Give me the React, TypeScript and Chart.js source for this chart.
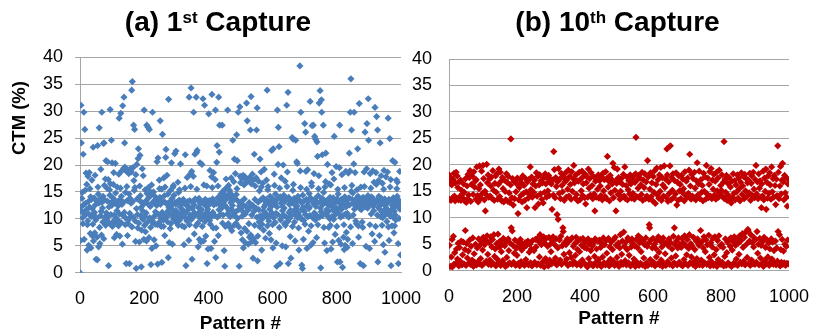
import React, { useEffect, useRef } from "react";
import { Chart, registerables } from "chart.js";

Chart.register(...registerables);

const FONT = "'Liberation Sans', Arial, Helvetica, sans-serif";

// CTM (%) per pattern number (index = pattern #), 1st capture
const ctmFirst: number[] = [
  0, 12.1, 6.0, 31.1, 24.1, 11.4, 13.8, 14.9, 10.2, 9.1, 22.0, 12.6, 29.8, 6.2, 11.0, 26.6, 15.3, 12.9, 10.8, 18.5,
  11.7, 16.4, 4.2, 8.9, 9.6, 17.9, 13.2, 5.1, 10.9, 18.6, 12.2, 15.6, 7.3, 14.1, 4.6, 10.4, 13.6, 17.2, 11.9, 6.8,
  9.0, 23.3, 5.9, 10.7, 13.9, 11.2, 7.4, 18.1, 12.6, 9.8, 2.5, 13.4, 10.1, 6.6, 2.4, 23.6, 15.9, 14.6, 4.8, 12.9,
  26.9, 8.4, 5.4, 13.7, 10.6, 19.2, 11.4, 7.0, 29.8, 13.1, 12.0, 9.4, 14.2, 24.0, 6.3, 24.1, 16.2, 13.5, 10.3, 17.4,
  8.8, 20.8, 11.1, 9.9, 15.7, 13.3, 20.6, 10.5, 17.3, 1.3, 12.2, 9.2, 15.4, 14.4, 30.3, 16.5, 10.8, 13.0, 24.6, 12.5,
  20.4, 8.6, 13.9, 9.5, 16.4, 18.6, 10.7, 6.5, 13.5, 9.3, 20.3, 14.8, 10.2, 12.8, 7.1, 11.5, 15.9, 13.2, 9.7, 12.4,
  8.7, 18.3, 28.7, 10.9, 6.8, 13.6, 15.7, 29.6, 9.3, 14.2, 18.9, 12.7, 5.3, 31.0, 10.6, 13.1, 19.4, 32.6, 11.2, 24.1,
  19.6, 8.9, 14.9, 10.1, 1.7, 18.8, 16.0, 13.4, 6.9, 19.1, 9.1, 9.8, 18.4, 14.6, 1.7, 11.0, 13.8, 19.3, 10.4, 12.9,
  18.7, 33.9, 8.5, 35.5, 13.2, 19.5, 10.3, 27.4, 17.1, 15.3, 26.6, 15.8, 9.6, 5.8, 18.2, 0.8, 11.9, 20.1, 13.7, 10.8,
  8.3, 21.2, 23.0, 9.2, 13.5, 5.7, 16.1, 21.8, 14.3, 10.6, 12.1, 1.1, 7.9, 13.0, 19.3, 11.5, 9.9, 18.0, 12.7, 6.2,
  30.2, 8.8, 10.5, 15.4, 7.6, 13.3, 11.1, 5.9, 27.4, 14.7, 9.4, 12.8, 27.0, 15.8, 13.9, 6.5, 26.6, 10.2, 15.1, 12.3,
  8.4, 1.5, 14.5, 16.3, 4.5, 9.7, 29.8, 13.1, 9.2, 15.0, 10.4, 6.1, 12.9, 14.2, 9.0, 11.3, 13.6, 5.0, 10.9, 12.5,
  20.6, 8.9, 1.6, 21.3, 10.8, 13.4, 9.3, 17.2, 15.6, 14.0, 28.2, 12.7, 10.1, 8.6, 15.5, 1.9, 11.2, 25.7, 13.3, 9.8,
  8.6, 17.6, 10.7, 14.3, 6.9, 15.9, 13.0, 21.4, 22.9, 10.3, 12.8, 18.1, 9.5, 11.4, 14.6, 2.8, 32.2, 12.1, 5.6, 10.9,
  13.2, 8.2, 15.3, 9.1, 12.5, 20.4, 10.6, 13.8, 5.3, 11.7, 15.9, 16.2, 9.9, 14.4, 11.2, 22.1, 13.0, 10.4, 12.7, 22.6,
  11.5, 9.3, 10.2, 13.1, 9.4, 16.8, 8.8, 14.9, 10.8, 13.5, 15.4, 9.8, 12.2, 20.2, 11.0, 13.3, 10.5, 12.8, 8.7, 11.7,
  12.9, 10.6, 13.6, 11.4, 5.2, 8.5, 10.3, 15.7, 21.9, 13.0, 1.3, 11.2, 12.5, 9.6, 17.7, 11.6, 13.2, 10.0, 12.3, 6.0,
  32.6, 8.9, 13.4, 18.3, 10.7, 16.0, 34.3, 9.9, 18.8, 2.5, 11.9, 13.1, 10.4, 17.9, 29.8, 12.6, 7.2, 11.1, 22.0, 13.7,
  10.8, 8.7, 32.6, 22.3, 15.5, 22.7, 13.5, 9.2, 4.8, 12.1, 10.5, 13.8, 6.2, 11.3, 20.4, 12.8, 10.0, 5.7, 13.2, 11.7,
  20.1, 8.6, 10.6, 32.3, 13.0, 5.9, 16.3, 12.7, 31.1, 9.5, 13.6, 11.0, 6.8, 12.4, 10.2, 16.1, 1.7, 13.3, 11.8, 4.4,
  12.5, 29.5, 10.9, 13.4, 9.7, 19.0, 9.0, 12.9, 4.5, 10.4, 17.8, 33.1, 15.8, 13.7, 11.2, 8.3, 18.6, 12.6, 10.7, 5.8,
  13.1, 17.3, 30.2, 2.8, 8.3, 12.8, 20.5, 23.6, 10.3, 13.9, 16.1, 6.9, 32.6, 11.7, 22.4, 27.4, 13.3, 10.8, 12.5, 14.6,
  11.9, 14.2, 13.6, 27.4, 9.2, 15.1, 10.7, 14.8, 13.2, 4.1, 12.6, 1.2, 15.5, 8.6, 14.0, 17.4, 13.7, 12.1, 15.8, 10.9,
  30.2, 14.4, 9.1, 16.2, 11.5, 13.9, 15.3, 8.4, 10.4, 14.7, 13.0, 17.6, 11.8, 7.8, 14.1, 12.5, 24.6, 13.4, 11.1, 16.9,
  8.8, 21.1, 10.6, 13.8, 18.4, 11.3, 9.2, 14.5, 25.6, 15.6, 20.8, 10.1, 13.3, 29.8, 11.7, 8.5, 1.2, 12.4, 30.8, 17.9,
  16.7, 11.9, 7.4, 13.2, 17.5, 10.5, 6.1, 12.6, 18.1, 4.6, 11.2, 16.3, 13.7, 8.2, 17.8, 10.9, 5.5, 12.3, 17.0, 31.5,
  7.7, 28.2, 16.9, 11.6, 5.3, 17.4, 9.1, 13.0, 6.6, 17.7, 12.1, 26.5, 7.0, 32.7, 16.5, 10.7, 5.8, 18.3, 12.5, 2.7,
  17.2, 6.3, 11.4, 22.0, 8.8, 13.6, 16.1, 5.6, 12.0, 17.6, 26.5, 10.3, 30.6, 2.2, 6.8, 13.1, 17.0, 11.7, 9.4, 15.2,
  8.5, 21.1, 10.6, 13.5, 18.7, 15.9, 4.2, 9.0, 10.0, 16.6, 13.9, 11.5, 7.9, 12.2, 19.2, 10.8, 13.3, 12.6, 6.4, 11.0,
  13.6, 17.2, 10.4, 33.9, 8.7, 15.4, 16.0, 13.0, 9.6, 12.7, 7.3, 11.8, 14.2, 10.6, 13.4, 6.1, 12.3, 22.7, 11.1, 13.8,
  8.9, 4.6, 23.0, 10.2, 13.1, 18.3, 16.2, 12.9, 9.3, 14.6, 11.0, 5.5, 13.5, 1.2, 12.2, 30.2, 10.8, 20.1, 27.0, 13.9,
  23.4, 8.4, 15.7, 1.7, 14.1, 9.8, 12.9, 17.6, 10.4, 13.6, 5.0, 11.5, 12.2, 20.0, 10.7, 14.4, 12.0, 9.1, 13.2, 17.0,
  8.8, 4.8, 13.7, 10.3, 31.1, 16.0, 18.7, 9.5, 33.5, 1.7, 14.0, 11.2, 12.7, 10.1, 13.4, 6.7, 11.6, 2.7, 12.9, 10.6,
  13.3, 25.1, 8.6, 15.3, 24.8, 16.4, 11.5, 13.8, 9.4, 12.6, 5.9, 10.7, 24.6, 13.1, 11.9, 20.6, 12.4, 20.3, 10.2, 14.2,
  11.1, 8.3, 4.2, 13.5, 10.5, 38.4, 18.9, 15.8, 29.8, 10.0, 13.0, 1.4, 11.7, 0.8, 14.4, 12.1, 6.2, 9.7, 13.3, 11.4,
  27.7, 9.0, 10.8, 26.1, 18.8, 13.6, 15.5, 4.5, 12.5, 19.1, 10.4, 13.2, 7.7, 11.9, 14.7, 12.2, 10.6, 31.8, 13.9, 5.1,
  8.7, 16.7, 16.1, 27.3, 13.4, 10.2, 5.6, 27.4, 12.8, 18.4, 11.1, 25.3, 13.7, 9.8, 24.8, 12.3, 10.7, 6.5, 24.3, 13.0,
  21.6, 8.9, 14.3, 15.6, 18.0, 31.5, 10.3, 13.1, 33.8, 12.0, 0.9, 11.3, 32.1, 29.8, 13.8, 21.9, 10.6, 12.7, 27.4, 14.9,
  8.4, 13.5, 5.5, 15.9, 10.9, 16.9, 22.2, 13.0, 11.7, 4.1, 12.8, 20.1, 10.5, 13.6, 11.4, 8.4, 16.5, 12.5, 10.0, 14.0,
  8.8, 16.3, 4.4, 13.4, 10.4, 18.6, 12.2, 5.7, 11.6, 13.9, 9.9, 17.4, 25.3, 12.9, 10.7, 7.1, 13.3, 11.5, 19.7, 12.0,
  8.6, 13.7, 2.0, 15.5, 14.6, 11.1, 6.0, 13.0, 19.5, 27.4, 2.0, 12.1, 10.3, 5.3, 13.6, 11.8, 18.2, 12.7, 1.0, 10.6,
  13.2, 6.6, 8.9, 4.3, 15.8, 14.1, 5.1, 10.9, 18.8, 12.2, 7.5, 13.5, 4.7, 11.0, 6.2, 12.8, 18.5, 10.3, 13.9, 22.2,
  12.6, 18.9, 29.8, 8.5, 36.0, 15.1, 26.5, 16.2, 13.6, 5.4, 14.8, 10.7, 12.9, 20.2, 29.8, 11.8, 13.3, 18.6, 12.4, 9.6,
  13.0, 9.1, 13.8, 15.4, 12.7, 23.0, 14.2, 8.7, 6.6, 13.5, 31.4, 12.0, 13.1, 1.7, 12.8, 15.9, 11.7, 13.6, 12.3, 9.4,
  13.3, 8.4, 14.0, 1.3, 12.9, 18.7, 16.0, 13.4, 26.1, 12.2, 13.8, 4.9, 12.6, 19.3, 27.7, 13.1, 12.0, 14.3, 32.3, 24.6,
  12.7, 13.6, 4.5, 8.9, 18.4, 13.2, 15.7, 10.9, 14.1, 12.8, 7.2, 13.4, 18.9, 12.3, 13.7, 11.5, 16.8, 12.9, 5.8, 30.7,
  13.0, 8.6, 18.6, 16.4, 29.0, 13.5, 10.7, 26.5, 2.0, 12.2, 17.1, 14.2, 11.9, 6.9, 13.3, 24.1, 12.6, 10.4, 18.0, 13.8,
  11.3, 8.8, 16.6, 10.2, 13.2, 5.2, 15.5, 19.0, 11.6, 13.7, 3.8, 12.4, 10.8, 17.8, 13.1, 11.9, 9.5, 12.9, 18.7, 11.2,
  28.7, 8.5, 13.6, 6.0, 11.0, 24.9, 15.9, 10.5, 17.3, 1.3, 13.3, 11.7, 8.7, 12.5, 20.8, 10.3, 13.9, 12.1, 7.4, 11.4,
  8.7, 20.5, 10.7, 13.2, 9.8, 12.4, 17.2, 15.6, 14.2, 16.8, 12.6, 5.4, 1.7, 13.5, 10.1, 12.2, 18.8, 11.8, 13.0, 3.3,
];

// CTM (%) per pattern number (index = pattern #), 10th capture
const ctmTenth: number[] = [
  18.1, 4.8, 13.5, 16.9, 0.8, 17.6, 13.3, 2.6, 16.2, 5.9, 0.7, 13.8, 17.3, 6.5, 1.2, 18.4, 14.1, 3.4, 13.2, 16.6,
  1.4, 18.6, 4.1, 13.6, 17.9, 2.2, 15.7, 5.2, 13.4, 0.9, 16.8, 4.4, 14.0, 1.8, 17.1, 13.3, 5.6, 15.2, 1.1, 14.5,
  3.0, 13.7, 5.4, 16.4, 1.3, 14.8, 13.2, 4.0, 7.6, 17.4, 1.0, 12.9, 5.1, 16.0, 2.4, 13.6, 18.2, 3.7, 14.3, 1.5,
  17.6, 5.8, 18.9, 1.2, 13.1, 4.6, 16.3, 18.4, 2.0, 17.8, 6.2, 14.4, 0.8, 18.7, 3.2, 15.8, 1.6, 16.9, 5.0, 13.5,
  17.2, 1.1, 19.6, 4.3, 14.2, 1.7, 13.0, 6.0, 15.5, 1.3, 19.8, 4.8, 16.2, 2.3, 13.7, 5.5, 18.8, 1.0, 14.6, 3.9,
  19.9, 6.3, 17.4, 1.4, 13.4, 4.9, 15.0, 11.3, 5.8, 14.4, 1.8, 20.1, 6.6, 16.6, 3.1, 18.1, 1.2, 13.9, 5.3, 17.3,
  2.0, 14.1, 6.4, 16.0, 1.1, 17.7, 4.5, 13.6, 5.9, 18.9, 1.4, 15.2, 6.8, 13.3, 2.7, 16.5, 4.1, 17.9, 0.9, 14.8,
  5.1, 18.3, 2.2, 13.5, 6.9, 16.3, 1.6, 19.2, 4.4, 14.0, 5.6, 18.6, 1.0, 16.9, 3.6, 13.2, 5.0, 17.6, 1.9, 15.5,
  6.1, 13.0, 1.3, 17.1, 4.7, 15.0, 0.8, 13.4, 5.5, 18.3, 2.5, 16.7, 1.1, 13.1, 6.0, 17.8, 3.8, 14.7, 1.5, 12.9,
  5.2, 16.2, 24.9, 8.1, 1.2, 13.8, 7.5, 17.4, 4.8, 12.4, 1.6, 16.9, 3.3, 13.6, 5.8, 17.0, 1.0, 14.9, 4.2, 16.4,
  2.9, 17.5, 5.4, 10.8, 1.4, 13.4, 4.6, 15.7, 0.9, 17.2, 5.9, 14.2, 1.7, 16.6, 3.9, 13.0, 5.1, 17.9, 1.3, 14.6,
  4.4, 16.1, 1.0, 13.3, 5.3, 17.4, 2.1, 14.9, 4.8, 11.9, 1.4, 16.8, 5.6, 13.7, 1.1, 17.2, 3.5, 14.4, 5.0, 19.6,
  1.5, 15.3, 4.1, 17.7, 0.9, 13.9, 5.7, 16.4, 1.2, 14.8, 3.8, 17.1, 1.6, 11.9, 5.9, 16.0, 4.5, 18.5, 1.1, 14.1,
  6.1, 17.8, 1.3, 12.6, 5.5, 16.2, 2.6, 18.1, 6.8, 14.5, 1.0, 17.0, 4.9, 13.5, 5.9, 16.6, 1.7, 12.8, 6.4, 17.6,
  0.7, 14.8, 5.2, 18.3, 2.3, 16.4, 6.1, 13.9, 1.5, 17.5, 4.6, 15.1, 0.9, 18.0, 6.3, 14.2, 2.0, 16.8, 5.0, 17.3,
  3.6, 16.4, 1.3, 11.6, 5.7, 17.1, 6.4, 14.3, 22.5, 1.8, 19.1, 4.9, 13.8, 2.4, 17.6, 6.0, 15.9, 1.1, 10.6, 16.8,
  4.3, 9.7, 19.3, 1.5, 14.6, 5.8, 17.3, 2.0, 13.6, 6.5, 18.4, 1.2, 16.1, 4.7, 14.9, 8.1, 7.4, 17.7, 3.1, 13.3,
  5.3, 16.8, 1.6, 18.5, 4.9, 13.9, 2.2, 17.2, 6.0, 15.4, 1.0, 19.0, 5.5, 14.1, 3.4, 17.8, 1.3, 16.3, 5.9, 13.5,
  2.5, 18.7, 6.2, 15.0, 1.2, 17.4, 4.6, 19.9, 1.7, 16.6, 5.1, 13.7, 2.9, 18.1, 6.3, 14.4, 1.1, 17.0, 4.0, 13.2,
  5.7, 16.9, 1.4, 18.6, 3.6, 13.4, 5.9, 17.3, 1.0, 15.1, 4.8, 18.8, 2.0, 14.2, 6.1, 16.4, 1.5, 17.9, 4.4, 13.8,
  5.4, 18.2, 12.6, 1.1, 16.6, 4.2, 17.7, 0.7, 13.9, 6.0, 19.2, 2.3, 15.6, 5.0, 17.4, 1.4, 14.3, 3.8, 18.5, 5.6,
  1.2, 16.1, 4.7, 13.6, 0.9, 17.8, 5.3, 14.5, 2.7, 11.3, 6.0, 16.9, 1.6, 13.9, 4.1, 17.3, 1.0, 15.4, 5.6, 18.1,
  2.1, 13.7, 5.8, 17.0, 1.3, 16.0, 4.4, 14.2, 0.8, 17.6, 5.1, 13.4, 2.6, 18.4, 6.2, 15.1, 1.5, 17.2, 4.9, 14.0,
  1.1, 18.7, 5.7, 13.6, 3.3, 17.5, 21.6, 1.6, 15.8, 6.1, 16.9, 0.9, 13.2, 4.5, 18.0, 2.2, 14.7, 5.4, 17.3, 1.3,
  16.4, 4.0, 20.3, 1.8, 13.8, 5.9, 19.5, 1.0, 15.2, 6.3, 17.0, 11.3, 4.8, 16.5, 2.5, 19.2, 1.4, 14.4, 5.2, 17.6,
  0.8, 16.8, 4.3, 13.5, 6.8, 15.0, 1.6, 17.4, 3.1, 13.9, 5.6, 16.3, 1.2, 18.2, 7.3, 14.1, 4.6, 19.6, 1.9, 13.6,
  5.4, 16.1, 1.1, 17.7, 4.0, 13.4, 6.2, 15.3, 1.5, 17.0, 2.9, 14.5, 5.7, 18.1, 0.9, 16.4, 4.5, 13.7, 6.0, 17.4,
  1.3, 14.6, 5.1, 17.9, 2.2, 13.5, 4.7, 16.7, 0.8, 18.3, 25.2, 5.9, 14.0, 1.6, 17.2, 4.3, 15.6, 6.6, 18.0, 1.0,
  13.8, 5.3, 17.5, 1.4, 16.2, 3.6, 14.4, 6.0, 18.6, 1.1, 13.3, 5.5, 17.1, 2.4, 15.7, 4.9, 18.3, 0.8, 13.6, 6.2,
  16.8, 1.5, 14.1, 4.6, 20.8, 1.0, 17.7, 5.2, 13.5, 8.7, 8.1, 15.4, 2.1, 18.5, 5.8, 14.0, 1.2, 16.6, 4.3, 13.2,
  6.1, 17.8, 1.6, 14.8, 5.0, 18.9, 0.9, 12.7, 4.2, 16.3, 2.6, 19.4, 5.7, 14.3, 1.3, 17.2, 6.4, 13.7, 3.5, 18.1,
  1.1, 15.0, 5.6, 19.5, 2.0, 13.3, 4.5, 17.6, 0.8, 16.2, 6.2, 14.1, 1.4, 19.8, 5.1, 15.7, 3.2, 17.3, 1.0, 13.9,
  5.4, 23.0, 18.1, 1.7, 13.1, 4.7, 16.8, 6.0, 14.6, 1.2, 19.8, 23.6, 5.3, 13.4, 2.4, 17.6, 4.1, 15.2, 0.9, 18.3,
  6.5, 13.8, 1.5, 8.1, 17.0, 4.9, 14.5, 2.8, 18.5, 5.6, 12.4, 1.1, 16.7, 4.3, 13.3, 6.2, 17.9, 1.6, 15.1, 5.0,
  16.3, 1.2, 13.6, 4.4, 18.0, 6.1, 14.8, 0.9, 17.3, 5.3, 15.5, 2.1, 13.2, 6.6, 18.7, 1.4, 14.2, 4.7, 16.9, 3.0,
  13.9, 5.9, 17.5, 1.0, 14.6, 4.2, 19.0, 6.8, 22.0, 1.5, 16.0, 5.1, 13.5, 2.6, 18.2, 4.6, 14.1, 1.2, 17.4, 6.3,
  13.7, 1.8, 18.6, 4.0, 15.6, 0.8, 13.4, 5.6, 17.0, 2.3, 20.4, 6.0, 14.3, 1.3, 16.4, 4.8, 18.8, 1.1, 13.6, 5.2,
  7.6, 17.2, 2.0, 14.8, 5.5, 16.1, 1.0, 13.2, 4.3, 18.4, 6.4, 15.0, 1.5, 17.7, 3.6, 13.5, 5.8, 19.9, 1.2, 14.5,
  4.9, 17.5, 1.4, 13.8, 6.7, 16.3, 2.5, 18.7, 0.9, 14.1, 5.3, 19.3, 1.7, 13.6, 4.5, 17.1, 6.1, 15.4, 1.0, 18.2,
  3.0, 14.3, 6.4, 16.9, 1.3, 13.5, 4.0, 18.6, 0.8, 15.1, 5.7, 17.5, 2.1, 13.9, 6.6, 19.0, 1.4, 14.6, 4.7, 16.1,
  1.2, 15.2, 5.0, 18.1, 1.6, 14.0, 4.4, 16.7, 0.9, 24.4, 13.6, 2.7, 17.3, 6.0, 14.8, 1.0, 18.0, 3.4, 13.3, 5.4,
  16.5, 1.5, 14.2, 5.8, 17.6, 1.1, 13.5, 4.6, 15.8, 6.2, 12.8, 0.8, 16.9, 3.9, 13.8, 5.5, 18.3, 1.4, 14.6, 6.4,
  17.0, 1.2, 13.4, 4.8, 16.2, 2.2, 14.9, 6.0, 18.1, 1.0, 13.7, 5.2, 17.5, 3.1, 15.5, 6.6, 13.2, 1.6, 16.7, 5.7,
  18.5, 1.3, 14.4, 7.0, 16.0, 4.4, 17.8, 1.8, 13.6, 6.3, 18.2, 1.1, 15.1, 7.3, 17.4, 5.0, 14.0, 2.5, 16.6, 7.8,
  7.5, 17.1, 1.4, 14.7, 5.6, 18.4, 1.0, 13.3, 6.8, 16.5, 2.0, 17.9, 5.3, 14.2, 1.3, 18.6, 4.5, 15.4, 6.2, 13.8,
  1.2, 17.2, 5.9, 19.9, 1.6, 14.5, 7.4, 16.8, 3.3, 13.6, 5.0, 18.3, 1.1, 15.6, 6.1, 17.0, 2.4, 13.9, 4.8, 11.9,
  16.4, 1.4, 14.1, 5.5, 18.8, 0.8, 13.4, 6.3, 17.5, 2.0, 15.0, 4.4, 19.2, 11.6, 1.3, 16.7, 5.8, 13.7, 2.6, 17.9,
  5.2, 14.6, 1.0, 18.5, 4.1, 16.2, 1.7, 13.5, 6.0, 19.6, 2.2, 14.9, 5.4, 17.4, 1.2, 13.9, 3.8, 18.0, 1.5, 16.1,
  5.6, 12.5, 1.1, 17.3, 4.3, 14.2, 1.8, 23.6, 7.4, 18.6, 1.3, 13.6, 6.8, 16.0, 0.9, 19.7, 4.0, 14.5, 1.6, 17.1,
  5.9, 20.3, 1.2, 16.8, 3.7, 13.4, 1.5, 18.0, 5.0, 14.7, 1.0, 17.6, 4.6, 13.9, 1.4, 12.2, 5.8, 16.4, 1.3, 17.2,
];

const xTickValues: number[] = [0, 200, 400, 600, 800, 1000];
const yTickValues: number[] = [0, 5, 10, 15, 20, 25, 30, 35, 40];
const titleA = { prefix: "(a) 1", sup: "st", rest: " Capture" };
const titleB = { prefix: "(b) 10", sup: "th", rest: " Capture" };
const yAxisTitle = "CTM (%)";
const xAxisTitle = "Pattern #";

const GRID = "#a6a6a6";

type PanelProps = {
  values: number[];
  color: string;
  left: number;
  width: number;
  padTop: number;
  padRight: number;
  padBottom: number;
  yWidth: number;
  xHeight: number;
  tickMarks: boolean;
};

function ScatterPanel(p: PanelProps) {
  const ref = useRef<HTMLCanvasElement | null>(null);
  useEffect(() => {
    if (!ref.current) return;
    const chart = new Chart(ref.current, {
      type: "scatter",
      data: {
        datasets: [
          {
            data: p.values.map((v, i) => ({ x: i, y: v })),
            pointStyle: "rectRot",
            pointRadius: 3.6,
            pointHoverRadius: 3.6,
            pointBorderWidth: 0,
            backgroundColor: p.color,
            borderColor: p.color,
          },
        ],
      },
      options: {
        animation: false,
        responsive: false,
        events: [],
        layout: { padding: { top: p.padTop, right: p.padRight, bottom: p.padBottom, left: 0 } },
        plugins: { legend: { display: false }, tooltip: { enabled: false }, title: { display: false } },
        scales: {
          x: {
            type: "linear",
            min: 0,
            max: 1000,
            afterFit: (s: any) => {
              s.height = p.xHeight;
            },
            afterBuildTicks: (s: any) => {
              s.ticks = xTickValues.map((v) => ({ value: v }));
            },
            grid: { display: false },
            border: { display: true, color: GRID, width: 1 },
            ticks: {
              autoSkip: false,
              maxRotation: 0,
              padding: 8,
              color: "#000",
              font: { family: FONT, size: 18 },
              callback: (v: any) => String(v),
            },
            title: {
              display: true,
              text: xAxisTitle,
              color: "#000",
              padding: { top: 0, bottom: 0 },
              font: { family: FONT, size: 19, weight: "bold" },
            },
          },
          y: {
            type: "linear",
            min: 0,
            max: 40,
            afterFit: (s: any) => {
              s.width = p.yWidth;
            },
            afterBuildTicks: (s: any) => {
              s.ticks = yTickValues.map((v) => ({ value: v }));
            },
            grid: {
              color: GRID,
              lineWidth: 1,
              drawTicks: p.tickMarks,
              tickLength: p.tickMarks ? 5 : 0,
              tickColor: GRID,
            },
            border: { display: true, color: GRID, width: 1 },
            ticks: {
              padding: p.tickMarks ? 12 : 17,
              color: "#000",
              font: { family: FONT, size: 18 },
              callback: (v: any) => String(v),
            },
          },
        },
      } as any,
    });
    return () => chart.destroy();
  }, []);
  return (
    <canvas
      ref={ref}
      width={p.width}
      height={335}
      style={{ position: "absolute", left: p.left, top: 0, width: p.width, height: 335 }}
    />
  );
}

function Title({ t, center }: { t: { prefix: string; sup: string; rest: string }; center: number }) {
  return (
    <div
      style={{
        position: "absolute",
        left: center - 160,
        width: 320,
        top: 8.3,
        textAlign: "center",
        fontFamily: FONT,
        fontWeight: "bold",
        fontSize: 28,
        lineHeight: "28px",
        color: "#000",
        whiteSpace: "nowrap",
      }}
    >
      {t.prefix}
      <span style={{ fontSize: 17, position: "relative", top: -8 }}>{t.sup}</span>
      {t.rest}
    </div>
  );
}

export default function App() {
  return (
    <div
      style={{
        position: "absolute",
        left: 0,
        top: 0,
        width: 817,
        height: 335,
        background: "#fff",
        overflow: "hidden",
      }}
    >
      <ScatterPanel
        values={ctmFirst}
        color="#4a7ebb"
        left={0}
        width={430}
        padTop={57.3}
        padRight={29}
        padBottom={0}
        yWidth={80}
        xHeight={62.3}
        tickMarks={true}
      />
      <ScatterPanel
        values={ctmTenth}
        color="#c00000"
        left={400}
        width={417}
        padTop={59}
        padRight={20}
        padBottom={5.3}
        yWidth={49}
        xHeight={59}
        tickMarks={false}
      />
      <Title t={titleA} center={218} />
      <Title t={titleB} center={617.5} />
      <div
        style={{
          position: "absolute",
          left: 19,
          top: 118,
          transform: "translate(-50%, -50%) rotate(-90deg)",
          fontFamily: FONT,
          fontWeight: "bold",
          fontSize: 18.5,
          lineHeight: "20px",
          color: "#000",
          whiteSpace: "nowrap",
        }}
      >
        {yAxisTitle}
      </div>
    </div>
  );
}
